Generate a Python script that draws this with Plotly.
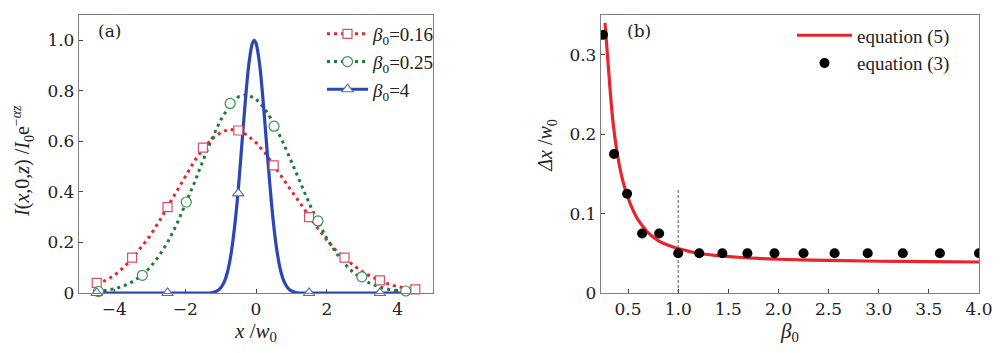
import plotly.graph_objects as go

# ---------------- Panel (a) data ----------------
xa = [-4.5, -4.25, -4.0, -3.75, -3.5, -3.25, -3.0, -2.75, -2.5, -2.25, -2.0, -1.75, -1.5, -1.25,
      -1.0, -0.75, -0.5, -0.25, 0.0, 0.25, 0.5, 0.75, 1.0, 1.25, 1.5, 1.75, 2.0, 2.25, 2.5,
      2.75, 3.0, 3.25, 3.5, 3.75, 4.0, 4.25, 4.5]
red_a = [0.035, 0.05, 0.07, 0.10, 0.135, 0.18, 0.225, 0.28, 0.34, 0.40, 0.46, 0.52, 0.57, 0.61,
         0.635, 0.648, 0.643, 0.625, 0.595, 0.555, 0.505, 0.455, 0.40, 0.35, 0.30, 0.255, 0.21,
         0.17, 0.14, 0.11, 0.085, 0.065, 0.05, 0.035, 0.025, 0.018, 0.013]
green_a = [0.005, 0.01, 0.016, 0.027, 0.044, 0.067, 0.10, 0.144, 0.20, 0.268, 0.347, 0.433,
           0.523, 0.608, 0.684, 0.741, 0.776, 0.785, 0.768, 0.729, 0.672, 0.60, 0.52, 0.437,
           0.356, 0.282, 0.216, 0.161, 0.116, 0.081, 0.055, 0.036, 0.023, 0.014, 0.009, 0.005, 0.003]
xb4 = [-4.5, -3.5, -2.5, -1.5, -1.3, -1.2, -1.1, -1.0, -0.9, -0.8, -0.7, -0.6, -0.5, -0.4, -0.3,
       -0.2, -0.1, -0.05, 0.0, 0.1, 0.2, 0.3, 0.4, 0.5, 0.6, 0.7, 0.8, 0.9, 1.0, 1.1, 1.2, 1.5,
       2.5, 3.5, 4.5]
blue_a = [0.0, 0.0, 0.0, 0.0, 0.0, 0.003, 0.008, 0.02, 0.043, 0.086, 0.159, 0.268, 0.41, 0.587,
          0.762, 0.907, 0.989, 1.0, 0.989, 0.907, 0.762, 0.587, 0.415, 0.268, 0.159, 0.086,
          0.043, 0.02, 0.008, 0.003, 0.0, 0.0, 0.0, 0.0, 0.0]

red_mx = [-4.5, -3.5, -2.5, -1.5, -0.5, 0.5, 1.5, 2.5, 3.5, 4.5]
red_my = [0.04, 0.14, 0.34, 0.575, 0.643, 0.505, 0.30, 0.14, 0.05, 0.014]
green_mx = [-4.45, -3.21, -1.97, -0.73, 0.51, 1.75, 2.99, 4.23]
green_my = [0.006, 0.07, 0.36, 0.75, 0.66, 0.285, 0.064, 0.008]
blue_mx = [-4.5, -2.5, -0.5, 1.5, 3.5]
blue_my = [0.0, 0.0, 0.394, 0.0, 0.0]

labels_a = ["<i>β</i><sub>0</sub>=0.16", "<i>β</i><sub>0</sub>=0.25", "<i>β</i><sub>0</sub>=4"]
ytitle_a = "<i>I</i>(<i>x</i>,0,<i>z</i>) /<i>I</i><sub>0</sub>e<sup>−<i>αz</i></sup>"
xtitle_a = "<i>x</i> /<i>w</i><sub>0</sub>"

# ---------------- Panel (b) data ----------------
beta_line = [0.27, 0.30, 0.35, 0.40, 0.45, 0.50, 0.55, 0.60, 0.70, 0.80, 0.90, 1.00, 1.20, 1.40,
             1.60, 1.80, 2.00, 2.50, 3.00, 3.50, 4.00]
dx_line = [0.34, 0.29, 0.215, 0.170, 0.140, 0.120, 0.104, 0.092, 0.076, 0.066, 0.060, 0.056,
           0.050, 0.047, 0.045, 0.0435, 0.0425, 0.041, 0.040, 0.0395, 0.039]
beta_pts = [0.25, 0.36, 0.49, 0.64, 0.81, 1.0, 1.21, 1.44, 1.69, 1.96, 2.25, 2.56, 2.89, 3.24, 3.61, 4.0]
dx_pts = [0.325, 0.175, 0.125, 0.075, 0.075, 0.05, 0.05, 0.05, 0.05, 0.05, 0.05, 0.05, 0.05, 0.05, 0.05, 0.05]
vline_x = [1.0, 1.0]
vline_y = [0.0, 0.131]
labels_b = ["equation (5)", "equation (3)"]
ytitle_b = "<i>Δx</i> /<i>w</i><sub>0</sub>"
xtitle_b = "<i>β</i><sub>0</sub>"

FONT = "DejaVu Serif"
TFONT = "Liberation Serif"
RED = "#e8242c"
RED_M = "#d5506a"
GREEN = "#1f7a35"
GREEN_M = "#3f8f55"
BLUE = "#2b47b3"
TRI = "#5a6aa8"
FRAME = "#808080"

fig = go.Figure()

# Panel (a) lines
fig.add_trace(go.Scatter(x=xa, y=red_a, mode="lines", line=dict(color=RED, width=3, dash="3px,4px"),
                         showlegend=False, xaxis="x", yaxis="y"))
fig.add_trace(go.Scatter(x=xa, y=green_a, mode="lines", line=dict(color=GREEN, width=3, dash="3px,4px"),
                         showlegend=False, xaxis="x", yaxis="y"))
fig.add_trace(go.Scatter(x=xb4, y=blue_a, mode="lines", line=dict(color=BLUE, width=3.2),
                         showlegend=False, xaxis="x", yaxis="y", line_shape="spline"))
# Panel (a) markers
fig.add_trace(go.Scatter(x=red_mx, y=red_my, mode="markers", cliponaxis=False,
                         marker=dict(symbol="square", size=9, color="white", line=dict(color=RED_M, width=1.2)),
                         showlegend=False, xaxis="x", yaxis="y"))
fig.add_trace(go.Scatter(x=green_mx, y=green_my, mode="markers", cliponaxis=False,
                         marker=dict(symbol="circle", size=10, color="white", line=dict(color=GREEN_M, width=1.2)),
                         showlegend=False, xaxis="x", yaxis="y"))
fig.add_trace(go.Scatter(x=blue_mx, y=blue_my, mode="markers", cliponaxis=False,
                         marker=dict(symbol="triangle-up", size=10, color="white",
                                     line=dict(color=TRI, width=1.2)),
                         showlegend=False, xaxis="x", yaxis="y"))
# Panel (a) legend entries
fig.add_trace(go.Scatter(x=[None], y=[None], mode="lines+markers", name=labels_a[0],
                         line=dict(color=RED, width=3, dash="3px,4px"),
                         marker=dict(symbol="square", size=9, color="white", line=dict(color=RED_M, width=1.2)),
                         legend="legend", xaxis="x", yaxis="y"))
fig.add_trace(go.Scatter(x=[None], y=[None], mode="lines+markers", name=labels_a[1],
                         line=dict(color=GREEN, width=3, dash="3px,4px"),
                         marker=dict(symbol="circle", size=10, color="white", line=dict(color=GREEN_M, width=1.2)),
                         legend="legend", xaxis="x", yaxis="y"))
fig.add_trace(go.Scatter(x=[None], y=[None], mode="lines+markers", name=labels_a[2],
                         line=dict(color=BLUE, width=3.2),
                         marker=dict(symbol="triangle-up", size=10, color="white", line=dict(color=TRI, width=1.2)),
                         legend="legend", xaxis="x", yaxis="y"))

# Panel (b)
fig.add_trace(go.Scatter(x=vline_x, y=vline_y, mode="lines", line=dict(color="#555555", width=1, dash="3px,2px"),
                         showlegend=False, xaxis="x2", yaxis="y2"))
fig.add_trace(go.Scatter(x=beta_line, y=dx_line, mode="lines", name=labels_b[0], line=dict(color=RED, width=3.2),
                         line_shape="spline", legend="legend2", xaxis="x2", yaxis="y2"))
fig.add_trace(go.Scatter(x=beta_pts, y=dx_pts, mode="markers", name=labels_b[1],
                         marker=dict(color="black", size=10), legend="legend2", xaxis="x2", yaxis="y2"))

axis_common = dict(showline=True, linecolor=FRAME, linewidth=1.3, mirror=True, ticks="inside",
                   ticklen=4, tickcolor="#444444", showgrid=False, zeroline=False, automargin=False,
                   tickfont=dict(family=FONT, size=17, color="#222222"))

fig.update_layout(
    template="none",
    width=1000, height=353,
    margin=dict(l=0, r=0, t=15, b=60, autoexpand=False),
    paper_bgcolor="white", plot_bgcolor="white",
    font=dict(family=FONT, color="#222222"),
    xaxis=dict(domain=[0.079, 0.433], range=[-5, 5], tickvals=[-4, -2, 0, 2, 4],
               title=dict(text=xtitle_a, font=dict(family=TFONT, size=21), standoff=3),
               anchor="y", **axis_common),
    yaxis=dict(domain=[0, 1], range=[0, 1.1], tickvals=[0, 0.2, 0.4, 0.6, 0.8, 1.0],
               ticktext=["0", "0.2", "0.4", "0.6", "0.8", "1.0"],
               anchor="x", **axis_common),
    xaxis2=dict(domain=[0.601, 0.979], range=[0.23, 4.0],
                tickvals=[0.5, 1.0, 1.5, 2.0, 2.5, 3.0, 3.5, 4.0],
                ticktext=["0.5", "1.0", "1.5", "2.0", "2.5", "3.0", "3.5", "4.0"],
                title=dict(text=xtitle_b, font=dict(family=TFONT, size=21), standoff=3),
                anchor="y2", **axis_common),
    yaxis2=dict(domain=[0, 1], range=[0, 0.35], tickvals=[0, 0.1, 0.2, 0.3],
                ticktext=["0", "0.1", "0.2", "0.3"],
                anchor="x2", **axis_common),
    legend=dict(x=0.322, y=1.0, xanchor="left", yanchor="top", bgcolor="rgba(0,0,0,0)",
                font=dict(family=TFONT, size=19), tracegroupgap=0, itemwidth=41),
    legend2=dict(x=0.792, y=0.995, xanchor="left", yanchor="top", bgcolor="rgba(0,0,0,0)",
                 font=dict(family=TFONT, size=19), tracegroupgap=0, itemwidth=55),
    annotations=[
        dict(text="(a)", x=0.096, y=0.985, xref="paper", yref="paper", xanchor="left", yanchor="top",
             showarrow=False, font=dict(family=FONT, size=17)),
        dict(text="(b)", x=0.625, y=0.985, xref="paper", yref="paper", xanchor="left", yanchor="top",
             showarrow=False, font=dict(family=FONT, size=17)),
        dict(text=ytitle_a, x=0.023, y=0.475, xref="paper", yref="paper", xanchor="center", yanchor="middle",
             textangle=-90, showarrow=False, font=dict(family=TFONT, size=20)),
        dict(text=ytitle_b, x=0.547, y=0.53, xref="paper", yref="paper", xanchor="center", yanchor="middle",
             textangle=-90, showarrow=False, font=dict(family=TFONT, size=20)),
    ],
)

fig.write_html("out.html", config={"responsive": False, "displayModeBar": False},
               post_script="document.body.style.margin='0px';document.body.style.overflow='hidden';")
